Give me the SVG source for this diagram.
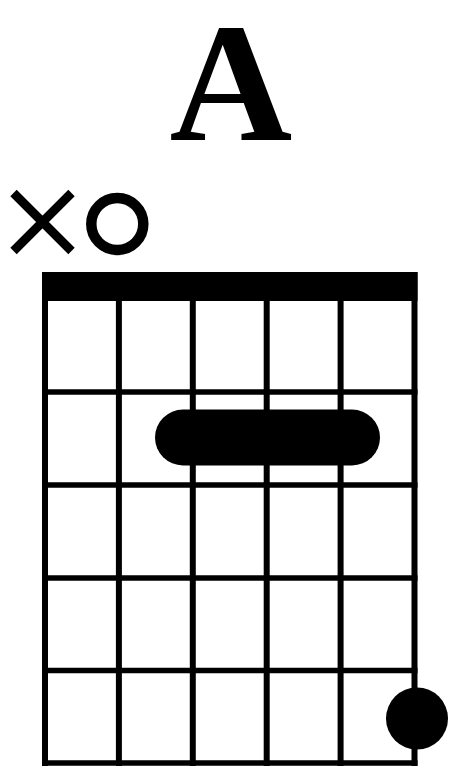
<svg xmlns="http://www.w3.org/2000/svg" width="464" height="777" viewBox="0 0 464 777">
<style>
.title{font-family:"Liberation Serif","Times New Roman",serif;font-weight:bold;font-size:170px;fill:#000}
.str{stroke:#000;stroke-width:6}
.fret{stroke:#000;stroke-width:5.5}
.mark{fill:none;stroke:#000}
</style>
<rect width="464" height="777" fill="#fff"/>
<text class="title" x="231" y="140" text-anchor="middle">A</text>
<g id="muted-6">
<path class="mark" stroke-width="9" d="M13.5,193 L71.5,251 M71.5,193 L13.5,251"/>
</g>
<g id="open-5">
<circle class="mark" stroke-width="10.5" cx="117.3" cy="224" r="26"/>
</g>
<g id="grid">
<rect id="nut" x="42" y="272" width="375.5" height="29" fill="#000"/>
<g id="strings">
<line class="str" x1="45" y1="272" x2="45" y2="766"/>
<line class="str" x1="118.9" y1="272" x2="118.9" y2="766"/>
<line class="str" x1="192.8" y1="272" x2="192.8" y2="766"/>
<line class="str" x1="266.7" y1="272" x2="266.7" y2="766"/>
<line class="str" x1="340.6" y1="272" x2="340.6" y2="766"/>
<line class="str" x1="414.5" y1="272" x2="414.5" y2="766"/>
</g>
<g id="frets">
<line class="fret" x1="42" y1="392" x2="417.5" y2="392"/>
<line class="fret" x1="42" y1="485" x2="417.5" y2="485"/>
<line class="fret" x1="42" y1="578" x2="417.5" y2="578"/>
<line class="fret" x1="42" y1="670.5" x2="417.5" y2="670.5"/>
<line class="fret" x1="42" y1="763" x2="417.5" y2="763"/>
</g>
</g>
<g id="barre">
<rect x="155" y="409.5" width="225" height="56" rx="28" ry="28" fill="#000"/>
</g>
<g id="dot">
<circle cx="417" cy="718.5" r="31" fill="#000"/>
</g>
</svg>
